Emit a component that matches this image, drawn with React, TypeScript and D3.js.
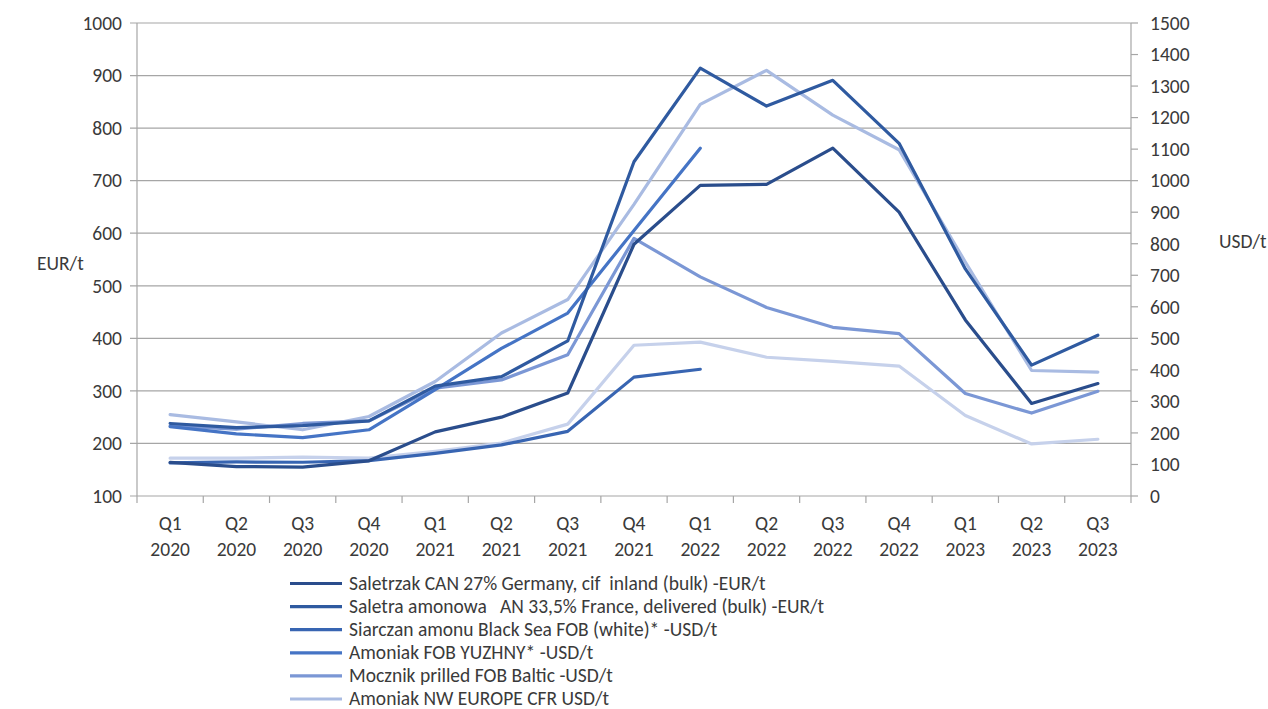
import React from "react";
import * as d3 from "d3";

const quarters = ["Q1", "Q2", "Q3", "Q4", "Q1", "Q2", "Q3", "Q4", "Q1", "Q2", "Q3", "Q4", "Q1", "Q2", "Q3"];
const years = ["2020", "2020", "2020", "2020", "2021", "2021", "2021", "2021", "2022", "2022", "2022", "2022", "2023", "2023", "2023"];

const canGermany = [164, 156, 155, 167, 222, 250, 296, 579, 691, 693, 762, 640, 435, 276, 314];
const anFrance = [238, 230, 234, 243, 309, 327, 395, 736, 914, 842, 891, 771, 532, 349, 406];
const sulfateBlackSea = [105, 108, 107, 112, 135, 162, 205, 377, 402, null, null, null, null, null, null];
const ammoniaYuzhny = [220, 197, 185, 210, 337, 468, 580, 842, 1103, null, null, null, null, null, null];
const ureaBaltic = [222, 212, 230, 238, 342, 368, 448, 817, 695, 598, 535, 515, 325, 263, 332];
const ammoniaNWEurope = [258, 235, 210, 252, 363, 517, 623, 925, 1242, 1350, 1208, 1098, 742, 398, 393];
const seventhSeries = [120, 120, 123, 120, 142, 168, 228, 478, 488, 440, 427, 412, 255, 165, 180];

const leftTicks = [100, 200, 300, 400, 500, 600, 700, 800, 900, 1000];
const rightTicks = [0, 100, 200, 300, 400, 500, 600, 700, 800, 900, 1000, 1100, 1200, 1300, 1400, 1500];

type S = { name: string; values: (number | null)[]; axis: "L" | "R"; color: string };

const series: S[] = [
  { name: "Amoniak NW EUROPE CFR USD/t", values: ammoniaNWEurope, axis: "R", color: "#a9bbe2" },
  { name: "", values: seventhSeries, axis: "R", color: "#c6d1eb" },
  { name: "Mocznik prilled FOB Baltic -USD/t", values: ureaBaltic, axis: "R", color: "#7b97d5" },
  { name: "Amoniak FOB YUZHNY* -USD/t", values: ammoniaYuzhny, axis: "R", color: "#4574c5" },
  { name: "Siarczan amonu Black Sea FOB (white)* -USD/t", values: sulfateBlackSea, axis: "R", color: "#3865b2" },
  { name: "Saletra amonowa   AN 33,5% France, delivered (bulk) -EUR/t", values: anFrance, axis: "L", color: "#2f5aa0" },
  { name: "Saletrzak CAN 27% Germany, cif  inland (bulk) -EUR/t", values: canGermany, axis: "L", color: "#2a4d8c" },
];

const legendOrder = [6, 5, 4, 3, 2, 0];

const FONT = "Carlito, Lato, 'Open Sans', sans-serif";

export default function App() {
  const W = 1268, H = 709;
  const x0 = 137, x1 = 1131, yTop = 23, yBot = 496;
  const band = d3.scaleBand<number>().domain(d3.range(quarters.length)).range([x0, x1]);
  const xc = (i: number) => (band(i) as number) + band.bandwidth() / 2;
  const yL = d3.scaleLinear().domain([100, 1000]).range([yBot, yTop]);
  const yR = d3.scaleLinear().domain([0, 1500]).range([yBot, yTop]);
  const grid = "#a6a6a6";
  const textColor = "#3a3a3a";
  const fs = 19.5;

  return (
    <svg width={W} height={H} style={{ position: "fixed", left: 0, top: 0, background: "#fff" }} fontFamily={FONT}>
      <rect width={W} height={H} fill="#fff" />
      {leftTicks.map((t) => (
        <g key={"l" + t}>
          <line x1={x0 - 7} x2={x1} y1={yL(t)} y2={yL(t)} stroke={grid} strokeWidth={1.2} />
          <text x={122} y={yL(t)} dy="0.35em" textAnchor="end" fontSize={fs} fill={textColor}>{t}</text>
        </g>
      ))}
      <line x1={x0} x2={x0} y1={yTop} y2={yBot} stroke={grid} strokeWidth={1.2} />
      <line x1={x1} x2={x1} y1={yTop} y2={yBot} stroke={grid} strokeWidth={1.2} />
      {rightTicks.map((t) => (
        <g key={"r" + t}>
          <line x1={x1} x2={x1 + 7} y1={yR(t)} y2={yR(t)} stroke={grid} strokeWidth={1.2} />
          <text x={1150} y={yR(t)} dy="0.35em" textAnchor="start" fontSize={fs} fill={textColor}>{t}</text>
        </g>
      ))}
      {d3.range(quarters.length + 1).map((i) => {
        const xx = x0 + i * band.bandwidth();
        return <line key={"xt" + i} x1={xx} x2={xx} y1={yBot} y2={yBot + 7} stroke={grid} strokeWidth={1.2} />;
      })}
      {quarters.map((q, i) => (
        <g key={"xl" + i}>
          <text x={xc(i)} y={523} dy="0.35em" textAnchor="middle" fontSize={fs} fill={textColor}>{q}</text>
          <text x={xc(i)} y={549} dy="0.35em" textAnchor="middle" fontSize={fs} fill={textColor}>{years[i]}</text>
        </g>
      ))}
      <text x={37} y={263} dy="0.35em" fontSize={fs} fill={textColor}>EUR/t</text>
      <text x={1219} y={241} dy="0.35em" fontSize={fs} fill={textColor}>USD/t</text>

      {series.map((s, k) => {
        const ys = s.axis === "L" ? yL : yR;
        const path = d3
          .line<number | null>()
          .defined((d) => d != null)
          .x((_, i) => xc(i))
          .y((d) => ys(d as number))(s.values);
        return <path key={"s" + k} d={path || ""} fill="none" stroke={s.color} strokeWidth={3.2} strokeLinejoin="round" strokeLinecap="round" />;
      })}

      {legendOrder.map((idx, j) => {
        const s = series[idx];
        const yy = 583.5 + j * 23.1;
        return (
          <g key={"lg" + j}>
            <line x1={290} x2={342} y1={yy} y2={yy} stroke={s.color} strokeWidth={3.2} />
            <text x={349} y={yy} dy="0.33em" fontSize={fs} fill={textColor} style={{ whiteSpace: "pre" }}>{s.name}</text>
          </g>
        );
      })}
    </svg>
  );
}
